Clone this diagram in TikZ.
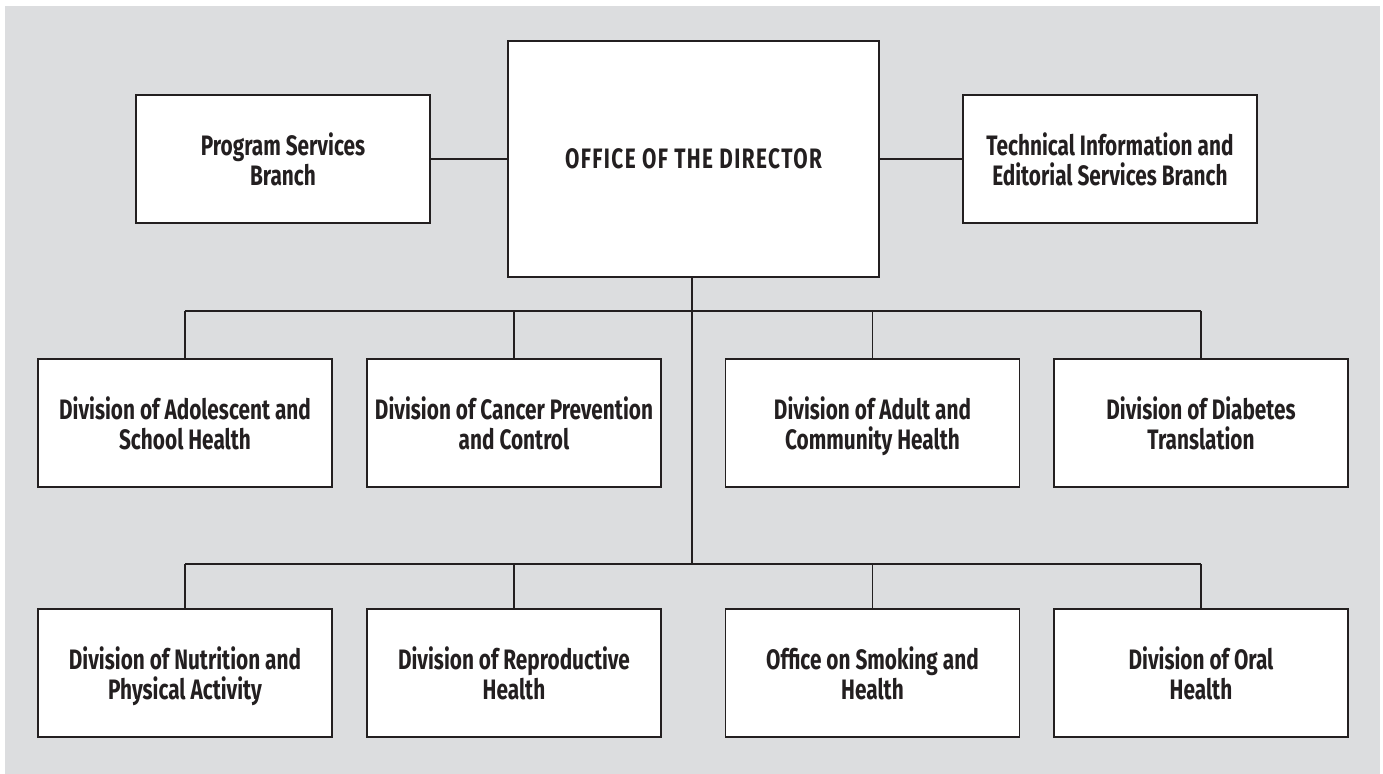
\documentclass[tikz,border=0pt]{standalone}
\usepackage{fontspec}
\setmainfont{Fira Sans}[FakeStretch=0.74]
\usetikzlibrary{positioning}
\definecolor{panel}{RGB}{220,221,223}
\definecolor{ink}{RGB}{35,31,32}

\begin{document}
\begin{tikzpicture}[x=0.02cm,y=-0.02cm,
    unit/.style={draw=ink,fill=white,line width=0.8pt,text=ink,align=center,
      font=\fontsize{16}{17.5}\selectfont\bfseries,text depth=0pt,
      minimum width=5.88cm,minimum height=2.56cm,inner sep=0pt},
    link/.style={draw=ink,line width=0.8pt}]
  \def\rowa{423}   % first row of divisions
  \def\rowb{673}   % second row of divisions
  \fill[white] (0,0) rectangle (1383,774);
  \fill[panel] (5,6) rectangle (1380,774);
  \useasboundingbox (0,0) rectangle (1383,774);
  % top level
  \node[unit,minimum width=7.42cm,minimum height=4.72cm] (dir) at (693.5,159)
    {\addfontfeatures{LetterSpace=5}OFFICE OF THE DIRECTOR};
  \node[unit] (prog) at (283,159) {Program Services\\Branch};
  \node[unit] (tech) at (1110,159) {Technical Information and\\Editorial Services Branch};
  % divisions
  \foreach \i/\x/\txt in {1/185/Division of Adolescent and\\School Health,
                          2/514/Division of Cancer Prevention\\and Control,
                          3/872.5/Division of Adult and\\Community Health,
                          4/1201/Division of Diabetes\\Translation}
    { \node[unit] (a\i) at (\x,\rowa) {\txt}; }
  \foreach \i/\x/\txt in {1/185/Division of Nutrition and\\Physical Activity,
                          2/514/Division of Reproductive\\Health,
                          3/872.5/Office on Smoking and\\Health,
                          4/1201/Division of Oral\\Health}
    { \node[unit] (b\i) at (\x,\rowb) {\txt}; }
  \coordinate (busa) at (692,311);
  \coordinate (busb) at (692,564);
  % connectors
  \draw[link] (prog.east) -- (prog.east -| dir.west);
  \draw[link] (tech.west) -- (tech.west -| dir.east);
  \draw[link] (dir.south -| busb) -- (busb);
  \draw[link] (a1.north |- busa) -- (a4.north |- busa);
  \draw[link] (b1.north |- busb) -- (b4.north |- busb);
  \foreach \i in {1,2,3,4} { \draw[link] (a\i.north) -- (a\i.north |- busa); }
  \foreach \i in {1,2,3,4} { \draw[link] (b\i.north) -- (b\i.north |- busb); }
\end{tikzpicture}
\end{document}
